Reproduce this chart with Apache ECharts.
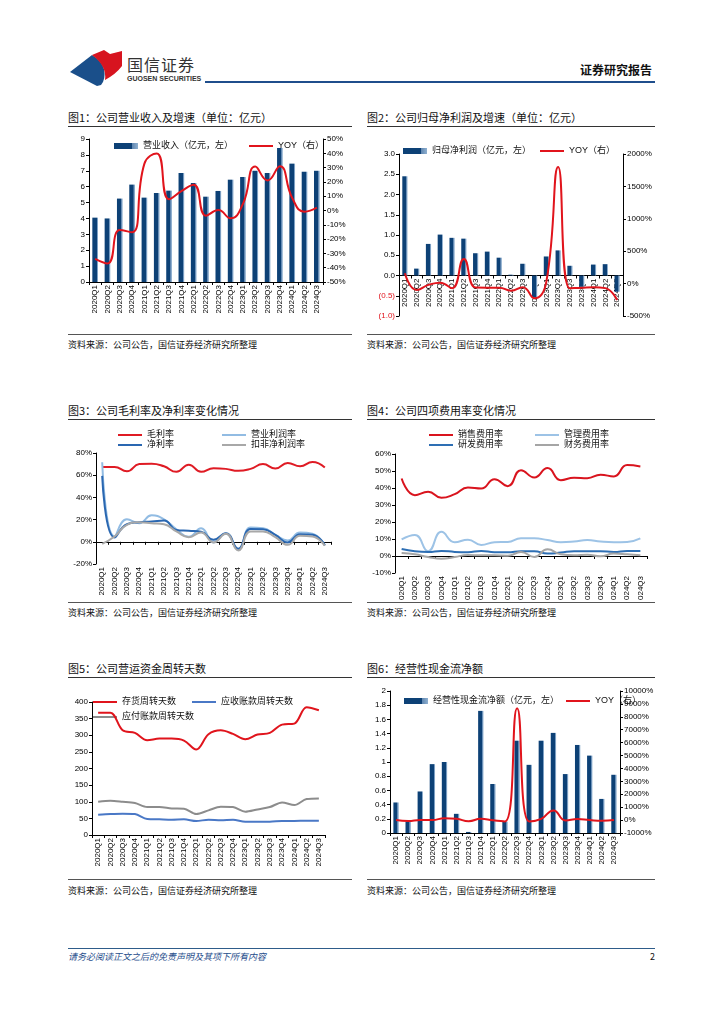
<!DOCTYPE html>
<html><head><meta charset="utf-8">
<script src="https://cdn.jsdelivr.net/npm/echarts/dist/echarts.min.js"></script>
<style>
body{margin:0;background:#fff;width:724px;height:1024px;position:relative;overflow:hidden;font-family:"Noto Sans CJK SC","Liberation Sans",sans-serif;}
.t{position:absolute;font-size:11px;color:#111;white-space:nowrap;line-height:12px;}
.tl{position:absolute;height:1px;background:#333;}
.src{position:absolute;font-size:9px;color:#111;white-space:nowrap;line-height:10px;}
.sl{position:absolute;height:1px;background:#555;}
.ch{position:absolute;}
</style></head>
<body>
<svg class="ch" style="left:0;top:0" width="230" height="95">
  <path d="M70,72 L92,55 Q101,60 104,69 Q106,79 101,85 L97,86 Z" fill="#1a4f8a"/>
  <path d="M92,55 L104,50 L110,54 L122,51 L122,66 Q116,74 105,80 Q107,66 92,55 Z" fill="#d7141f"/>
</svg>
<div class="t" style="left:127px;top:55px;font-size:16px;line-height:18px;letter-spacing:1px;color:#333;">国信证券</div>
<div class="t" style="left:127px;top:75px;font-size:7px;line-height:8px;color:#333;font-family:'Liberation Sans';font-weight:bold;">GUOSEN SECURITIES</div>
<div class="t" style="left:580px;top:63px;font-size:12px;line-height:14px;font-weight:bold;color:#111;">证券研究报告</div>
<div style="position:absolute;left:205px;top:81px;width:450px;height:2px;background:#1f4e8c;"></div>

<div class="t" style="left:68px;top:111px;">图1：公司营业收入及增速（单位：亿元）</div>
<div class="tl" style="left:68px;top:126px;width:284px;"></div>
<div class="t" style="left:367px;top:111px;">图2：公司归母净利润及增速（单位：亿元）</div>
<div class="tl" style="left:367px;top:126px;width:288px;"></div>
<div class="sl" style="left:68px;top:334px;width:284px;"></div>
<div class="src" style="left:68px;top:340px;">资料来源：公司公告，国信证券经济研究所整理</div>
<div class="sl" style="left:367px;top:334px;width:288px;"></div>
<div class="src" style="left:367px;top:340px;">资料来源：公司公告，国信证券经济研究所整理</div>

<div class="t" style="left:68px;top:404px;">图3：公司毛利率及净利率变化情况</div>
<div class="tl" style="left:68px;top:419px;width:284px;"></div>
<div class="t" style="left:367px;top:404px;">图4：公司四项费用率变化情况</div>
<div class="tl" style="left:367px;top:419px;width:288px;"></div>
<div class="sl" style="left:68px;top:602px;width:284px;"></div>
<div class="src" style="left:68px;top:608px;">资料来源：公司公告，国信证券经济研究所整理</div>
<div class="sl" style="left:367px;top:602px;width:288px;"></div>
<div class="src" style="left:367px;top:608px;">资料来源：公司公告，国信证券经济研究所整理</div>

<div class="t" style="left:68px;top:662px;">图5：公司营运资金周转天数</div>
<div class="tl" style="left:68px;top:677px;width:284px;"></div>
<div class="t" style="left:367px;top:662px;">图6：经营性现金流净额</div>
<div class="tl" style="left:367px;top:677px;width:288px;"></div>
<div class="sl" style="left:68px;top:879px;width:284px;"></div>
<div class="src" style="left:68px;top:886px;">资料来源：公司公告，国信证券经济研究所整理</div>
<div class="sl" style="left:367px;top:879px;width:288px;"></div>
<div class="src" style="left:367px;top:886px;">资料来源：公司公告，国信证券经济研究所整理</div>

<div style="position:absolute;left:68px;top:948px;width:587px;height:1px;background:#2e5c8a;"></div>
<div class="src" style="left:68px;top:952px;color:#1f4e8c;font-style:italic;">请务必阅读正文之后的免责声明及其项下所有内容</div>
<div class="src" style="left:650px;top:952px;">2</div>

<div id="c1" class="ch" style="left:60px;top:128px;width:300px;height:200px;"></div>
<div id="c2" class="ch" style="left:360px;top:128px;width:300px;height:240px;"></div>
<div id="c3" class="ch" style="left:60px;top:420px;width:300px;height:180px;"></div>
<div id="c4" class="ch" style="left:360px;top:420px;width:300px;height:180px;"></div>
<div id="c5" class="ch" style="left:60px;top:690px;width:300px;height:185px;"></div>
<div id="c6" class="ch" style="left:360px;top:685px;width:300px;height:190px;"></div>

<script>
const quarters = ['2020Q1','2020Q2','2020Q3','2020Q4','2021Q1','2021Q2','2021Q3','2021Q4','2022Q1','2022Q2','2022Q3','2022Q4','2023Q1','2023Q2','2023Q3','2023Q4','2024Q1','2024Q2','2024Q3'];

// Chart 1
const revenue = [4.05,4.0,5.25,6.13,5.31,5.6,5.75,6.86,6.23,5.37,5.73,6.44,6.61,7.0,6.86,8.43,7.45,6.94,7.0];
const revenueYoy = [-33.8,-37,-13.7,-15.2,32.8,39.9,7.9,13.5,18,-3.6,0.3,-5.5,4.6,30.7,21,31,8.8,-0.8,2];
// Chart 2
const netProfit = [2.45,0.17,0.78,1.01,0.93,0.91,0.55,0.59,0.44,0.02,0.29,-0.55,0.47,0.62,0.24,-0.28,0.27,0.28,-0.4];
const netProfitYoy = [160,-98,-20,15,-72,381,-62,-63,-63,-110,-55,-227,30,1799,-73,-63,-55,-70,-253];
// Chart 3
const grossMargin = [67.5,67.5,63.6,70,70.4,68,63,69.5,63,66.3,65.7,63.9,65.7,70,66,71,68,72,67];
const opMargin = [71.6,4.8,20.3,16.7,23.9,20.3,11.3,4.5,12.2,-0.6,7.8,-7.2,12.8,12.2,6.3,1.2,8.4,7.2,-3.3];
const netMargin = [59.4,3.9,15.8,17.6,18.2,19.1,10.7,9.9,9,1.8,7.8,-6.3,11.6,11.3,6.3,-0.6,6.9,6.3,-3];
const deductMargin = [-1.8,4.8,15.2,17.6,16.7,15.8,9.3,4.2,8.4,-0.6,7.2,-7.8,9.3,9.3,4.2,-2.7,5.4,4.8,-3.6];
// Chart 4
const sellExp = [45.6,35.8,37.8,34.2,36.4,40.3,39.7,45.2,41.1,50.5,46.2,51.7,44.6,46,45.8,47.8,46.8,53.5,52.7];
const adminExp = [9.8,12.4,2.8,14.2,8.1,9.6,6.5,8.1,8.3,10.4,10.4,9.4,8.1,8.5,9.4,8.5,8.1,8.3,10.4];
const rdExp = [4.1,2.8,2.4,3,2.4,2.2,3,2.2,2.2,2.8,2.8,1.4,2,2.8,2.8,2.8,2.4,3,3];
const finExp = [1.8,1,-0.6,-1.6,-0.6,0.6,0.4,0.4,0.2,2.4,-0.6,3.9,1,0.4,0.8,-0.2,1.4,1,0.4];
// Chart 5
const invDays = [368,368,315,307,285,290,290,284,257,303,315,304,288,302,307,332,335,384,375];
const arDays = [61,63,64,63,48,47,46,47,42,46,44,46,40,40,40,42,42,43,43];
const apDays = [100,103,100,96,84,84,80,79,63,74,85,84,70,77,84,98,90,108,110];
// Chart 6
const opCash = [0.43,0.16,0.585,0.97,1.0,0.27,0.015,1.72,0.69,0.16,1.3,0.96,1.3,1.41,0.83,1.24,1.09,0.48,0.82];
const opCashYoy = [0,-80,0,0,150,100,-90,100,-20,-100,8660,-100,100,750,-30,80,0,-50,0];

const FONT = '"Liberation Sans","Noto Sans CJK SC",sans-serif';
const NAVY = '#0d4176';
const RED = '#e1141c';

function barColor(){
  return new echarts.graphic.LinearGradient(0,0,1,0,[{offset:0,color:NAVY},{offset:0.74,color:NAVY},{offset:0.75,color:'#5f86b0'},{offset:1,color:'#8fb0d0'}]);
}
function grid(l,r,t,b){ return {left:l,right:r,top:t,bottom:b,containLabel:false,outerBoundsMode:'none'}; }
function catAxis(extra){
  return Object.assign({
    type:'category', data:quarters, boundaryGap:true,
    axisLine:{lineStyle:{color:'#000',width:1}},
    axisTick:{show:true,length:3,lineStyle:{color:'#000'}},
    axisLabel:{rotate:90,fontSize:8,color:'#000',fontFamily:FONT,margin:3,interval:0}
  }, extra||{});
}
function valAxis(o){
  const a = {
    type:'value', min:o.min, max:o.max, interval:o.interval, position:o.position||'left',
    axisLine:{show:true,onZero:false,lineStyle:{color:'#000',width:1}},
    axisTick:{show:true,length:3,lineStyle:{color:'#000'}},
    splitLine:{show:false},
    axisLabel:{fontSize:8,color:'#000',fontFamily:FONT,margin:4,formatter:o.formatter}
  };
  if(o.rich) a.axisLabel.rich = o.rich;
  return a;
}
function legend(names, left, top, opts){
  return Object.assign({
    data:names, left:left, top:top, itemWidth:24, itemHeight:6, itemGap:8,
    textStyle:{fontSize:9,color:'#111',fontFamily:FONT,lineHeight:10},
    selectedMode:false, icon:'rect'
  }, opts||{});
}
function lineSeries(name, data, color, yIdx, w){
  return {name:name,type:'line',data:data,yAxisIndex:yIdx||0,smooth:0.5,symbol:'none',
    lineStyle:{color:color,width:w||2},itemStyle:{color:color},z:5};
}
function mk(id, opt){
  const c = echarts.init(document.getElementById(id));
  opt.animation = false;
  c.setOption(opt);
}
const pct = v => v + '%';

// Chart 1
mk('c1', {
  grid:grid(29,37,11,46),
  legend:[
    legend(['营业收入（亿元，左）'],49,8),
    legend(['YOY（右）'],184,8,{itemHeight:2})
  ],
  xAxis:catAxis(),
  yAxis:[valAxis({min:0,max:9,interval:1}), valAxis({min:-50,max:50,interval:10,position:'right',formatter:pct})],
  series:[
    {name:'营业收入（亿元，左）',type:'bar',data:revenue,barWidth:'46%',itemStyle:{color:barColor()},z:2},
    lineSeries('YOY（右）',revenueYoy,RED,1)
  ]
});

// Chart 2 (x axis placed at the left axis zero: grid height 162, zero at 3/4 -> offset up 40.5)
mk('c2', {
  grid:grid(39,37,26,52),
  legend:[
    legend(['归母净利润（亿元，左）'],38,13),
    legend(['YOY（右）'],175,13,{itemHeight:2})
  ],
  xAxis:catAxis({offset:-40.5, axisLine:{onZero:false,lineStyle:{color:'#000'}}}),
  yAxis:[
    valAxis({min:-1,max:3,interval:0.5,formatter:v=> v<0 ? '{r|('+Math.abs(v).toFixed(1)+')}' : v.toFixed(1), rich:{r:{color:RED,fontSize:8,fontFamily:FONT}}}),
    valAxis({min:-500,max:2000,interval:500,position:'right',formatter:pct})
  ],
  series:[
    {name:'归母净利润（亿元，左）',type:'bar',data:netProfit,barWidth:'44%',itemStyle:{color:barColor()},z:2},
    lineSeries('YOY（右）',netProfitYoy,RED,1)
  ]
});

// Chart 3
mk('c3', {
  grid:grid(36,29,33,36),
  legend:[
    legend(['毛利率','净利率'],53,5,{orient:'vertical',itemHeight:2,itemGap:0}),
    legend(['营业利润率','扣非净利润率'],157,5,{orient:'vertical',itemHeight:2,itemGap:0})
  ],
  xAxis:catAxis({axisLine:{onZero:true,lineStyle:{color:'#000'}}}),
  yAxis:valAxis({min:-20,max:80,interval:20,formatter:pct}),
  series:[
    lineSeries('毛利率',grossMargin,'#df1b24'),
    lineSeries('营业利润率',opMargin,'#92bce3'),
    lineSeries('净利率',netMargin,'#2a67b1'),
    lineSeries('扣非净利润率',deductMargin,'#a8a8a8')
  ]
});

// Chart 4
mk('c4', {
  grid:grid(35,13,34,27),
  legend:[
    legend(['销售费用率','研发费用率'],64,5,{orient:'vertical',itemHeight:2,itemGap:0}),
    legend(['管理费用率','财务费用率'],170,5,{orient:'vertical',itemHeight:2,itemGap:0})
  ],
  xAxis:catAxis({axisLine:{onZero:true,lineStyle:{color:'#000'}}}),
  yAxis:valAxis({min:-10,max:60,interval:10,formatter:pct}),
  series:[
    lineSeries('销售费用率',sellExp,'#d9141e'),
    lineSeries('管理费用率',adminExp,'#9dc3e6'),
    lineSeries('研发费用率',rdExp,'#2e6fb4'),
    lineSeries('财务费用率',finExp,'#a5a5a5')
  ]
});

// Chart 5
mk('c5', {
  grid:grid(32,35,12,40),
  legend:[
    legend(['存货周转天数','应付账款周转天数'],28,2,{orient:'vertical',itemHeight:2,itemGap:5}),
    legend(['应收账款周转天数'],127,2,{itemHeight:2})
  ],
  xAxis:catAxis(),
  yAxis:valAxis({min:0,max:400,interval:50}),
  series:[
    Object.assign(lineSeries('存货周转天数',invDays,'#e0141c'),{smooth:0.35}),
    Object.assign(lineSeries('应收账款周转天数',arDays,'#4a78c6'),{smooth:0.3}),
    Object.assign(lineSeries('应付账款周转天数',apDays,'#8c8c8c'),{smooth:0.3})
  ]
});

// Chart 6
mk('c6', {
  grid:grid(30,40,6,42),
  legend:[
    legend(['经营性现金流净额（亿元，左）'],39,6),
    legend(['YOY（右）'],201,6,{itemHeight:2})
  ],
  xAxis:catAxis(),
  yAxis:[
    valAxis({min:0,max:2,interval:0.2,formatter:v=>String(Number(v.toFixed(1)))}),
    valAxis({min:-1000,max:10000,interval:1000,position:'right',formatter:pct})
  ],
  series:[
    {name:'经营性现金流净额（亿元，左）',type:'bar',data:opCash,barWidth:'44%',itemStyle:{color:barColor()},z:2},
    lineSeries('YOY（右）',opCashYoy,RED,1)
  ]
});
</script>
</body></html>
